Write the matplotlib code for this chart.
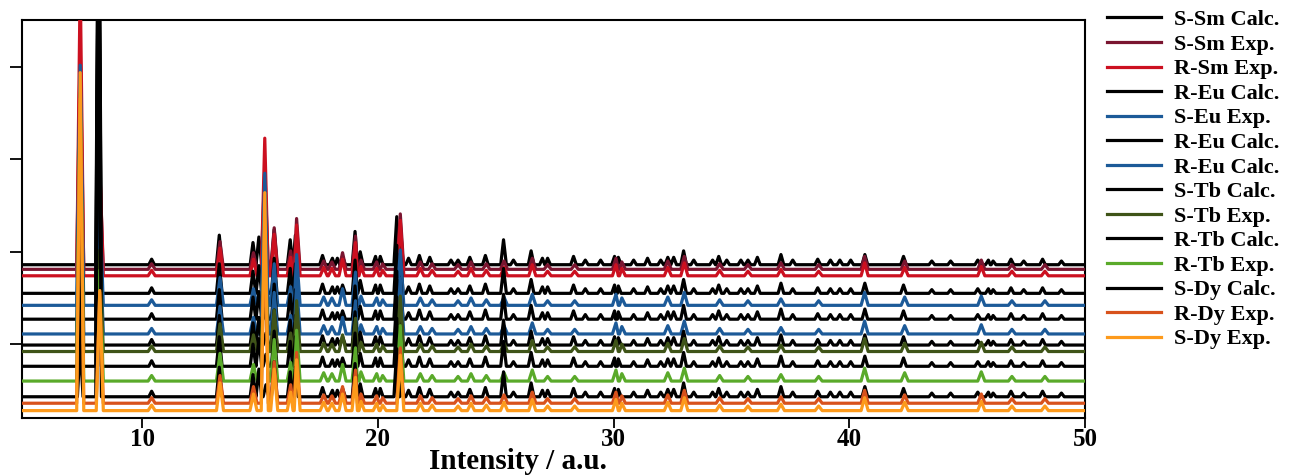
import numpy as np
import matplotlib
matplotlib.use("Agg")
import matplotlib.pyplot as plt

plt.rcParams['font.family'] = ['Liberation Serif', 'DejaVu Serif']
plt.rcParams['font.weight'] = 'bold'

# legend order = drawing order (top trace first)
labels = ["S-Sm Calc.", "S-Sm Exp.", "R-Sm Exp.", "R-Eu Calc.", "S-Eu Exp.",
          "R-Eu Calc.", "R-Eu Calc.", "S-Tb Calc.", "S-Tb Exp.", "R-Tb Calc.",
          "R-Tb Exp.", "S-Dy Calc.", "R-Dy Exp.", "S-Dy Exp."]
kinds = ["calc", "exp", "exp", "calc", "exp", "calc", "exp", "calc", "exp",
         "calc", "exp", "calc", "exp", "exp"]
colors = ["#000000", "#7a1530", "#cc1020", "#000000", "#1c5a98", "#000000",
          "#1c5a98", "#000000", "#3f5418", "#000000", "#5aaa2a", "#000000",
          "#d8521c", "#fd9a1c"]
offsets = [166, 161, 154, 135, 122, 107, 91, 79, 72, 56, 40, 23, 16, 8]

# simulated pattern (same for every Calc. trace): 2theta, intensity
calc_pos = [7.37, 8.15, 10.4, 13.27, 14.7, 14.95, 15.25, 15.6, 16.28, 16.5,
            17.65, 18.07, 18.28, 18.5, 19.03, 19.25, 19.9, 20.1, 20.8, 20.95,
            21.3, 21.76, 22.2, 23.1, 23.4, 23.9, 24.56, 25.33, 25.75, 26.5,
            26.98, 27.2, 28.3, 28.8, 29.45, 30.04, 30.2, 30.85, 31.44, 32.0,
            32.3, 32.55, 32.97, 33.4, 34.2, 34.46, 34.8, 35.4, 35.7, 36.1,
            37.1, 37.6, 38.66, 39.2, 39.6, 40.06, 40.66, 42.3, 43.5, 44.3,
            45.45, 45.9, 46.1, 46.86, 47.4, 48.2, 49.0]
calc_int = [56, 480, 6, 32, 24, 30, 13, 38, 27, 32,
            10, 7, 7, 9, 36, 14, 9, 9, 52, 43,
            7, 10, 8, 5, 5, 8, 10, 27, 5, 15,
            7, 7, 9, 5, 5, 9, 8, 5, 7, 5,
            8, 8, 15, 5, 5, 9, 5, 5, 5, 8,
            11, 5, 6, 5, 5, 5, 11, 9, 4, 4,
            5, 5, 4, 6, 4, 6, 4]

# measured patterns: minor reflections shared by all Exp. traces
exp_pos = [10.4, 13.3, 14.72, 15.6, 16.3, 16.55, 17.7, 18.05, 18.5, 19.05,
           19.28, 19.95, 20.2, 20.95, 21.8, 22.3, 23.4, 23.95, 24.6, 25.35,
           26.55, 27.2, 28.35, 30.1, 30.35, 32.3, 33.0, 34.5, 35.7, 37.1,
           38.7, 40.65, 42.35, 45.6, 46.9, 48.3]
exp_int = [6, 30, 18, 45, 20, 55, 9, 8, 18, 36,
           10, 8, 6, 60, 8, 6, 5, 8, 6, 9,
           12, 5, 5, 12, 8, 9, 14, 6, 5, 7,
           5, 14, 9, 10, 5, 5]
# strong reflections of each Exp. trace at 7.37, 8.2 and 15.2 deg
exp_main_pos = [7.37, 8.2, 15.2]
exp_main_int = {
    "S-Sm Exp.": [245, 110, 110],
    "R-Sm Exp.": [320, 120, 149],
    "S-Eu Exp.": [260, 110, 130],
    "R-Eu Calc.": [280, 110, 174],
    "S-Tb Exp.": [280, 110, 120],
    "R-Tb Exp.": [300, 120, 170],
    "R-Dy Exp.": [330, 120, 200],
    "S-Dy Exp.": [366, 130, 236],
}


def stick_line(pos, inten, base, hw):
    pts = [(4.9, base), (50, base)]
    for p, h in zip(pos, inten):
        pts += [(p - hw, base), (p, base + h), (p + hw, base)]
    pts.sort()
    xs = [q[0] for q in pts]
    ys = [q[1] for q in pts]
    return xs, ys


fig = plt.figure(figsize=(12.89, 4.75), dpi=100)
ax = fig.add_axes([22 / 1289, 57 / 475, 1063 / 1289, 398 / 475])

for i, (lab, kind, col, off) in enumerate(zip(labels, kinds, colors, offsets)):
    if kind == "calc":
        xs, ys = stick_line(calc_pos, calc_int, off, 0.12)
    else:
        pos = exp_pos + exp_main_pos
        inten = exp_int + exp_main_int[lab]
        xs, ys = stick_line(pos, inten, off, 0.15)
    ax.plot(xs, ys, color=col, lw=2.3, label=lab, zorder=2 + i,
            solid_joinstyle='round')

ax.set_xlim(4.9, 50)
ax.set_ylim(0, 431)
ax.set_xticks([10, 20, 30, 40, 50])
ax.set_yticks([80, 180, 280, 380])
ax.set_yticklabels([])
ax.tick_params(axis='x', direction='out', length=7, width=1.3, labelsize=18, pad=0)
ax.tick_params(axis='y', direction='out', length=9, width=1.3)
for s in ax.spines.values():
    s.set_linewidth(1.5)
ax.set_xlabel("Intensity / a.u.", fontsize=21, fontweight='bold')
ax.xaxis.set_label_coords(0.467, -0.075)

fig.legend(loc='upper left', bbox_to_anchor=(1100 / 1289, 1 - 3 / 475), frameon=False,
           fontsize=16, handlelength=2.45, handletextpad=0.6, labelspacing=0.18,
           borderaxespad=0, borderpad=0.3)

fig.savefig("out.png", dpi=100)
